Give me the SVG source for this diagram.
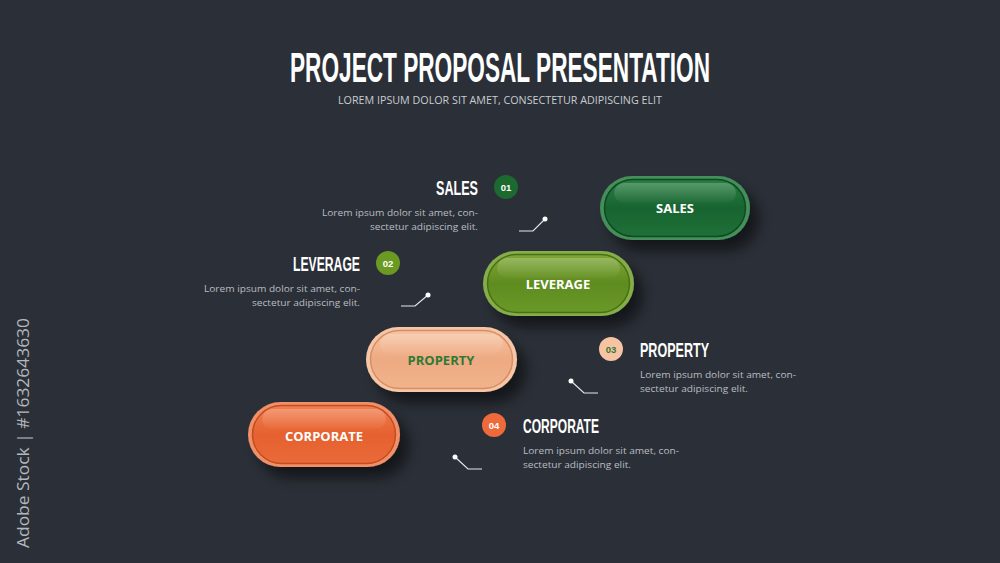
<svg xmlns="http://www.w3.org/2000/svg" width="1000" height="563" viewBox="0 0 1000 563">
<style>
.title{font-family:"Liberation Sans",Arial,sans-serif;font-weight:700;fill:#ffffff}
.sub{font-family:"Open Sans","Liberation Sans",sans-serif;font-size:10.5px;fill:#c9ccd0}
.head{font-family:"Liberation Sans",Arial,sans-serif;font-weight:700;font-size:20px;fill:#ffffff}
.body{font-family:"Open Sans","Liberation Sans",sans-serif;font-size:9.5px;fill:#b9bcc1}
.num{font-family:"Liberation Sans",Arial,sans-serif;font-weight:700;font-size:9.5px;fill:#ffffff;text-anchor:middle}
.plab{font-family:"Open Sans","Liberation Sans",sans-serif;font-weight:700;font-size:13px;text-anchor:middle}
.conn{fill:none;stroke:#e6e6e6;stroke-width:1.2}
.dot{fill:#ffffff}
.wm{font-family:"Open Sans","Liberation Sans",sans-serif;font-size:17px;fill:#b4b8bd}
.hl{fill:url(#hl)}
</style>
<defs>
<filter id="sh" x="-30%" y="-40%" width="170%" height="200%">
<feDropShadow dx="9" dy="11" stdDeviation="7" flood-color="#000000" flood-opacity="0.55"/>
</filter>
<linearGradient id="gS" x1="0" y1="0" x2="0" y2="1"><stop offset="0" stop-color="#2a7f42"/><stop offset="0.5" stop-color="#176430"/><stop offset="1" stop-color="#1f7038"/></linearGradient>
<linearGradient id="gL" x1="0" y1="0" x2="0" y2="1"><stop offset="0" stop-color="#7ea636"/><stop offset="0.5" stop-color="#5f8c1f"/><stop offset="1" stop-color="#6a9828"/></linearGradient>
<linearGradient id="gP" x1="0" y1="0" x2="0" y2="1"><stop offset="0" stop-color="#f5c4a2"/><stop offset="0.5" stop-color="#eeaa82"/><stop offset="1" stop-color="#f1b38c"/></linearGradient>
<linearGradient id="gC" x1="0" y1="0" x2="0" y2="1"><stop offset="0" stop-color="#f17f51"/><stop offset="0.5" stop-color="#e5612f"/><stop offset="1" stop-color="#ea6a39"/></linearGradient>
<linearGradient id="hl" x1="0" y1="0" x2="0" y2="1"><stop offset="0" stop-color="#ffffff" stop-opacity="0.22"/><stop offset="1" stop-color="#ffffff" stop-opacity="0.02"/></linearGradient>
</defs>
<rect width="1000" height="563" fill="#2b3038"/>
<text class="wm" transform="translate(29,548) rotate(-90)" textLength="230" lengthAdjust="spacingAndGlyphs">Adobe Stock | #1632643630</text>
<g id="title">
<text class="title" x="500" y="82" font-size="42" text-anchor="middle" textLength="420" lengthAdjust="spacingAndGlyphs">PROJECT PROPOSAL PRESENTATION</text>
<text class="sub" x="500" y="104" text-anchor="middle" textLength="324" lengthAdjust="spacingAndGlyphs">LOREM IPSUM DOLOR SIT AMET, CONSECTETUR ADIPISCING ELIT</text>
</g>
<g id="connectors">
<polyline class="conn" points="519,231 533,231 545,219"/><circle class="dot" cx="545" cy="219" r="2.5"/>
<polyline class="conn" points="401,306 415,306 428,295"/><circle class="dot" cx="428" cy="295" r="2.5"/>
<polyline class="conn" points="598,393 584,393 571,381"/><circle class="dot" cx="571" cy="381" r="2.5"/>
<polyline class="conn" points="482,469 468,469 455,457"/><circle class="dot" cx="455" cy="457" r="2.5"/>
</g>
<g id="pill-sales">
<rect x="600" y="176" width="150" height="64" rx="32" fill="#45905a" filter="url(#sh)"/>
<rect x="604.5" y="179.5" width="141" height="57" rx="28.5" fill="url(#gS)" stroke="#0f4a22" stroke-width="1.5"/>
<rect x="614" y="183" width="122" height="20" rx="10" class="hl"/>
<text class="plab" x="675" y="213" fill="#ffffff">SALES</text>
</g>
<g id="pill-leverage">
<rect x="483" y="251" width="151" height="65" rx="32.5" fill="#85ad4a" filter="url(#sh)"/>
<rect x="487.5" y="254.5" width="142" height="58" rx="29" fill="url(#gL)" stroke="#4a7014" stroke-width="1.5"/>
<rect x="497" y="258" width="123" height="20" rx="10" class="hl"/>
<text class="plab" x="558" y="289" fill="#ffffff">LEVERAGE</text>
</g>
<g id="pill-property">
<rect x="366" y="327" width="151" height="65" rx="32.5" fill="#f6c6a6" filter="url(#sh)"/>
<rect x="370.5" y="330.5" width="142" height="58" rx="29" fill="url(#gP)" stroke="#d68e66" stroke-width="1.5"/>
<rect x="380" y="334" width="123" height="20" rx="10" class="hl"/>
<text class="plab" x="441" y="365" fill="#2e7a34">PROPERTY</text>
</g>
<g id="pill-corporate">
<rect x="248" y="402" width="152" height="65" rx="32.5" fill="#f19068" filter="url(#sh)"/>
<rect x="252.5" y="405.5" width="143" height="58" rx="29" fill="url(#gC)" stroke="#c44d20" stroke-width="1.5"/>
<rect x="262" y="409" width="124" height="20" rx="10" class="hl"/>
<text class="plab" x="324" y="441" fill="#ffffff">CORPORATE</text>
</g>
<g id="label-sales">
<text class="head" x="478" y="195" text-anchor="end" textLength="42" lengthAdjust="spacingAndGlyphs">SALES</text>
<circle cx="506" cy="187" r="12" fill="#1d6a30"/>
<text class="num" x="506" y="190.5">01</text>
<text class="body" x="478" y="216" text-anchor="end" textLength="156" lengthAdjust="spacingAndGlyphs">Lorem ipsum dolor sit amet, con-</text>
<text class="body" x="478" y="230" text-anchor="end" textLength="108" lengthAdjust="spacingAndGlyphs">sectetur adipiscing elit.</text>
</g>
<g id="label-leverage">
<text class="head" x="360" y="271" text-anchor="end" textLength="67" lengthAdjust="spacingAndGlyphs">LEVERAGE</text>
<circle cx="388" cy="263" r="12" fill="#6a9a22"/>
<text class="num" x="388" y="266.5">02</text>
<text class="body" x="360" y="292" text-anchor="end" textLength="156" lengthAdjust="spacingAndGlyphs">Lorem ipsum dolor sit amet, con-</text>
<text class="body" x="360" y="306" text-anchor="end" textLength="108" lengthAdjust="spacingAndGlyphs">sectetur adipiscing elit.</text>
</g>
<g id="label-property">
<circle cx="611" cy="349" r="12" fill="#f6c3a3"/>
<text class="num" x="611" y="352.5" style="fill:#2e7a34">03</text>
<text class="head" x="640" y="357" textLength="69" lengthAdjust="spacingAndGlyphs">PROPERTY</text>
<text class="body" x="640" y="378" textLength="156" lengthAdjust="spacingAndGlyphs">Lorem ipsum dolor sit amet, con-</text>
<text class="body" x="640" y="392" textLength="108" lengthAdjust="spacingAndGlyphs">sectetur adipiscing elit.</text>
</g>
<g id="label-corporate">
<circle cx="494" cy="425" r="12" fill="#ee6a3a"/>
<text class="num" x="494" y="428.5">04</text>
<text class="head" x="523" y="433" textLength="76" lengthAdjust="spacingAndGlyphs">CORPORATE</text>
<text class="body" x="523" y="454" textLength="156" lengthAdjust="spacingAndGlyphs">Lorem ipsum dolor sit amet, con-</text>
<text class="body" x="523" y="468" textLength="108" lengthAdjust="spacingAndGlyphs">sectetur adipiscing elit.</text>
</g>
</svg>
